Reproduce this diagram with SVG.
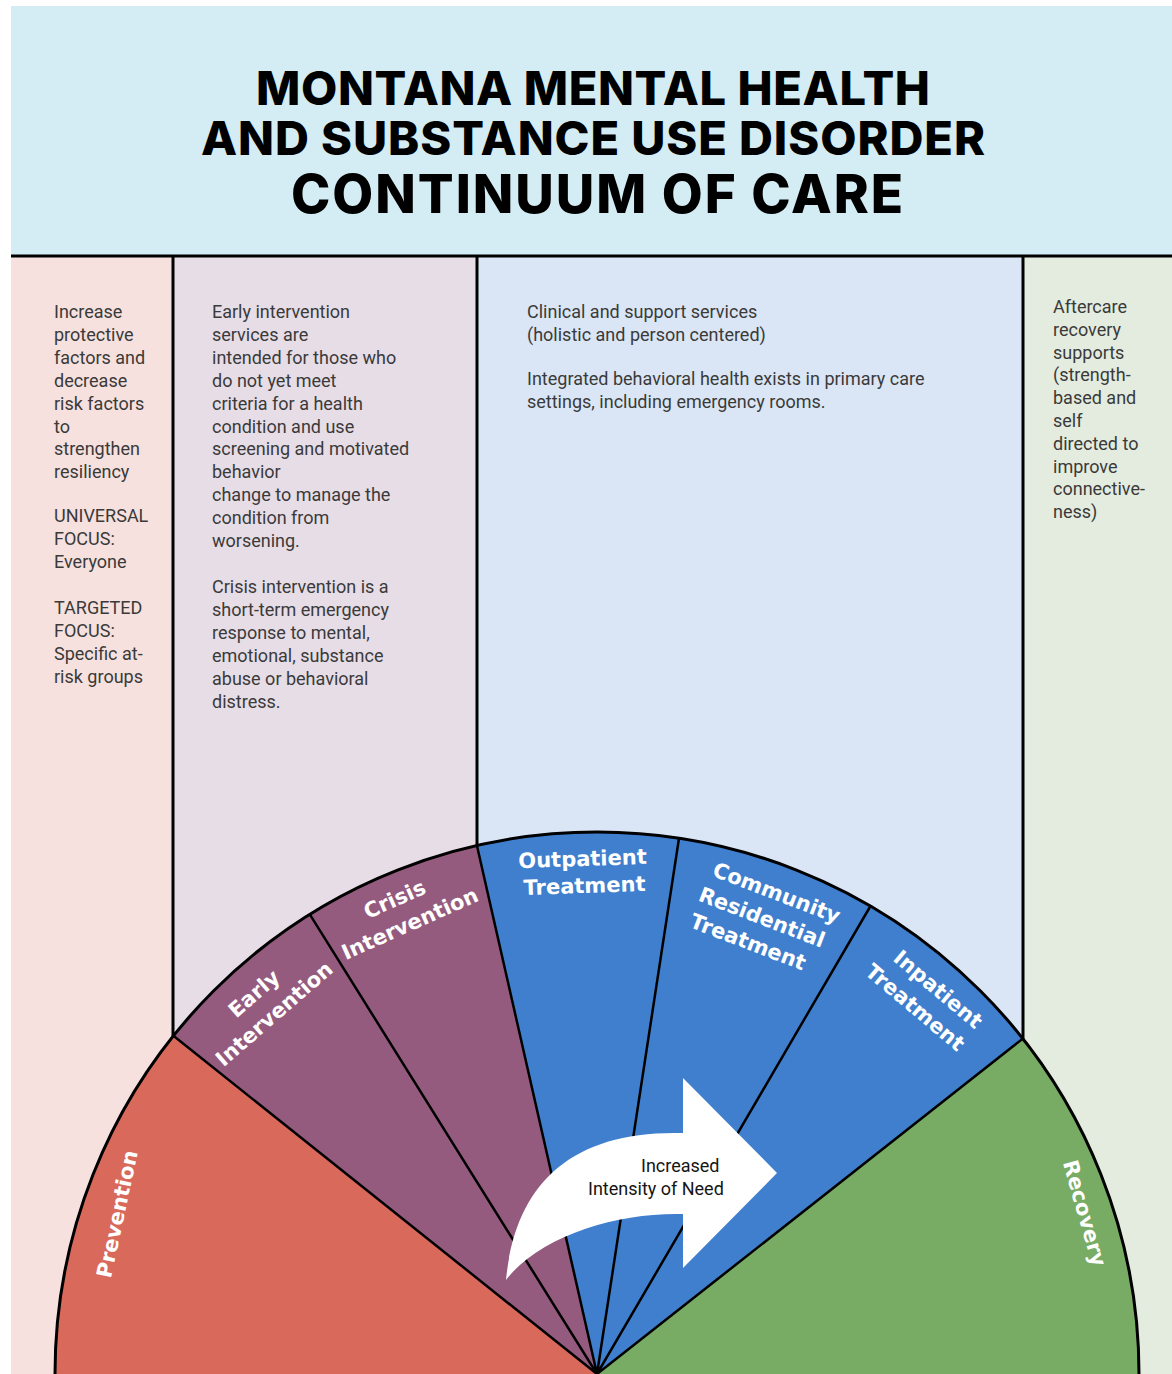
<svg xmlns="http://www.w3.org/2000/svg" width="1172" height="1374" viewBox="0 0 1172 1374">
<style>
.title{font-family:Inter,"Liberation Sans",sans-serif;font-weight:800;fill:#000;text-anchor:middle}
.body{font-family:Roboto,"Liberation Sans",sans-serif;font-size:18px;fill:#3a3a3a}
.lbl{font-family:"DejaVu Sans",sans-serif;font-weight:bold;font-size:21px;fill:#fff;text-anchor:middle}
.div{stroke:#000;stroke-width:3;fill:none}
.ray{stroke:#000;stroke-width:2.5;fill:none}
.arrowtxt{font-family:Roboto,"Liberation Sans",sans-serif;font-size:18px;fill:#151515}
</style>
<rect width="1172" height="1374" fill="#ffffff"/>
<g id="header">
<rect x="11" y="6" width="1161" height="250" fill="#d4edf4"/>
<text class="title" font-size="47" x="593" y="105" textLength="674" lengthAdjust="spacing">MONTANA MENTAL HEALTH</text>
<text class="title" font-size="47" x="593" y="155" textLength="784" lengthAdjust="spacing">AND SUBSTANCE USE DISORDER</text>
<text class="title" font-size="53" x="597" y="213" textLength="612" lengthAdjust="spacing">CONTINUUM OF CARE</text>
</g>
<g id="columns">
<rect x="11" y="256" width="162" height="1118" fill="#f6e1de"/>
<rect x="173" y="256" width="304" height="1118" fill="#e7dde7"/>
<rect x="477" y="256" width="546" height="1118" fill="#dae6f5"/>
<rect x="1023" y="256" width="149" height="1118" fill="#e4ecdf"/>
</g>
<g id="prevention-text">
<text class="body"><tspan x="54" y="318">Increase</tspan><tspan x="54" dy="22.9">protective</tspan><tspan x="54" dy="22.9">factors and</tspan><tspan x="54" dy="22.9">decrease</tspan><tspan x="54" dy="22.9">risk factors</tspan><tspan x="54" dy="22.9">to</tspan><tspan x="54" dy="22.9">strengthen</tspan><tspan x="54" dy="22.9">resiliency</tspan></text>
<text class="body"><tspan x="54" y="522">UNIVERSAL</tspan><tspan x="54" dy="22.9">FOCUS:</tspan><tspan x="54" dy="22.9">Everyone</tspan></text>
<text class="body"><tspan x="54" y="614">TARGETED</tspan><tspan x="54" dy="22.9">FOCUS:</tspan><tspan x="54" dy="22.9">Specific at-</tspan><tspan x="54" dy="22.9">risk groups</tspan></text>
</g>
<g id="intervention-text">
<text class="body"><tspan x="212" y="318">Early intervention</tspan><tspan x="212" dy="22.9">services are</tspan><tspan x="212" dy="22.9">intended for those who</tspan><tspan x="212" dy="22.9">do not yet meet</tspan><tspan x="212" dy="22.9">criteria for a health</tspan><tspan x="212" dy="22.9">condition and use</tspan><tspan x="212" dy="22.9">screening and motivated</tspan><tspan x="212" dy="22.9">behavior</tspan><tspan x="212" dy="22.9">change to manage the</tspan><tspan x="212" dy="22.9">condition from</tspan><tspan x="212" dy="22.9">worsening.</tspan></text>
<text class="body"><tspan x="212" y="593">Crisis intervention is a</tspan><tspan x="212" dy="22.9">short-term emergency</tspan><tspan x="212" dy="22.9">response to mental,</tspan><tspan x="212" dy="22.9">emotional, substance</tspan><tspan x="212" dy="22.9">abuse or behavioral</tspan><tspan x="212" dy="22.9">distress.</tspan></text>
</g>
<g id="treatment-text">
<text class="body"><tspan x="527" y="318">Clinical and support services</tspan><tspan x="527" dy="22.9">(holistic and person centered)</tspan></text>
<text class="body"><tspan x="527" y="385">Integrated behavioral health exists in primary care</tspan><tspan x="527" dy="22.9">settings, including emergency rooms.</tspan></text>
</g>
<g id="recovery-text">
<text class="body"><tspan x="1053" y="313">Aftercare</tspan><tspan x="1053" dy="22.8">recovery</tspan><tspan x="1053" dy="22.8">supports</tspan><tspan x="1053" dy="22.8">(strength-</tspan><tspan x="1053" dy="22.8">based and</tspan><tspan x="1053" dy="22.8">self</tspan><tspan x="1053" dy="22.8">directed to</tspan><tspan x="1053" dy="22.8">improve</tspan><tspan x="1053" dy="22.8">connective-</tspan><tspan x="1053" dy="22.8">ness)</tspan></text>
</g>
<g id="fan">
<g id="seg-prevention"><path d="M597,1374 L55,1374 A542,542 0 0 1 173.4,1035.8 Z" fill="#d9695b"/>
<text class="lbl" transform="translate(117,1214) rotate(-78)" y="7.5">Prevention</text></g>
<g id="seg-early"><path d="M597,1374 L173.4,1035.8 A542,542 0 0 1 309.8,914.4 Z" fill="#955b7e"/>
<text class="lbl" transform="translate(263,1004) rotate(-41)"><tspan x="0" y="-6.5">Early</tspan><tspan x="2" y="22">Intervention</tspan></text></g>
<g id="seg-crisis"><path d="M597,1374 L309.8,914.4 A542,542 0 0 1 476.9,845.5 Z" fill="#955b7e"/>
<text class="lbl" transform="translate(402,911) rotate(-24)"><tspan x="-2" y="-6.5">Crisis</tspan><tspan x="2" y="22">Intervention</tspan></text></g>
<g id="seg-outpatient"><path d="M597,1374 L476.9,845.5 A542,542 0 0 1 679,838.2 Z" fill="#3f7fce"/>
<text class="lbl" transform="translate(583,872) rotate(-2)"><tspan x="0" y="-6">Outpatient</tspan><tspan x="1" y="21">Treatment</tspan></text></g>
<g id="seg-community"><path d="M597,1374 L679,838.2 A542,542 0 0 1 870.5,906 Z" fill="#3f7fce"/>
<text class="lbl" transform="translate(762,917) rotate(21)"><tspan x="5" y="-20.5">Community</tspan><tspan x="0" y="7.5">Residential</tspan><tspan x="-4" y="35.5">Treatment</tspan></text></g>
<g id="seg-inpatient"><path d="M597,1374 L870.5,906 A542,542 0 0 1 1023,1038.5 Z" fill="#3f7fce"/>
<text class="lbl" transform="translate(927,998) rotate(40)"><tspan x="3" y="-6.5">Inpatient</tspan><tspan x="-3" y="22">Treatment</tspan></text></g>
<g id="seg-recovery"><path d="M597,1374 L1023,1038.5 A542,542 0 0 1 1139,1374 Z" fill="#78ab64"/>
<text class="lbl" transform="translate(1085,1213) rotate(74)" y="7.5">Recovery</text></g>
</g>
<g id="connectors">
<line class="div" x1="11" y1="256" x2="1172" y2="256"/>
<line class="div" x1="173" y1="256" x2="173" y2="1036"/>
<line class="div" x1="477" y1="256" x2="477" y2="846"/>
<line class="div" x1="1023" y1="256" x2="1023" y2="1039"/>
<path class="div" d="M55,1374 A542,542 0 0 1 1139,1374"/>
<path class="ray" d="M597,1374 L173.4,1035.8 M597,1374 L309.8,914.4 M597,1374 L476.9,845.5 M597,1374 L679,838.2 M597,1374 L870.5,906 M597,1374 L1023,1038.5"/>
</g>
<g id="intensity-arrow">
<path d="M506,1280 C515,1185 570,1130 683,1133 L683,1078 L777,1173 L683,1268 L683,1214 C620,1212 540,1235 506,1280 Z" fill="#ffffff"/>
<text class="arrowtxt"><tspan x="641" y="1172">Increased</tspan><tspan x="588" y="1195">Intensity of Need</tspan></text>
</g>
</svg>
